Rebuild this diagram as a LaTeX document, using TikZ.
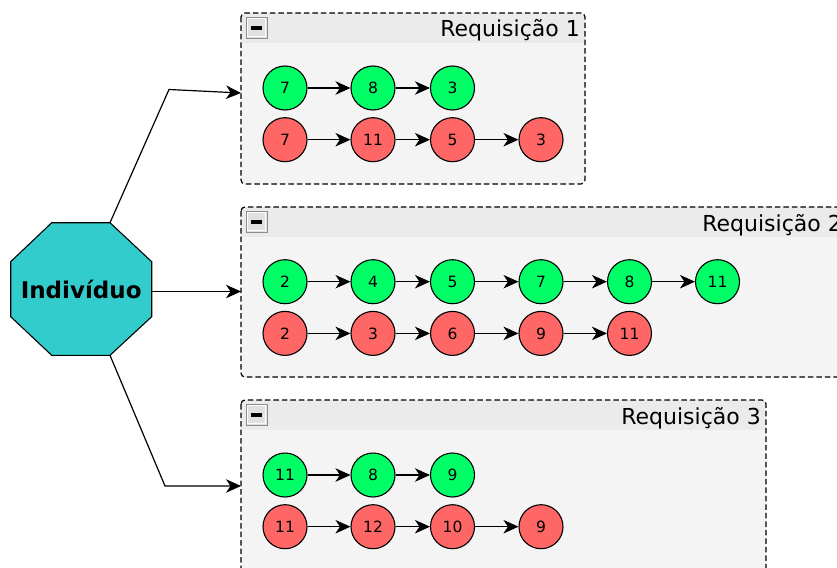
\documentclass[tikz,border=0pt]{standalone}
\usepackage{fontspec}
\setmainfont{DejaVu Sans}
\usetikzlibrary{arrows.meta}
\definecolor{hdrgray}{HTML}{EBEBEB}
\definecolor{bodygray}{HTML}{F4F4F4}
\definecolor{okgreen}{HTML}{00FF66}
\definecolor{badred}{HTML}{FF6666}
\definecolor{octteal}{HTML}{33CCCC}
\definecolor{iconedge}{HTML}{8C8C8C}
\definecolor{iconfill}{HTML}{E0E0E0}

% request container: #1 title node name, #2 left, #3 top, #4 right, #5 bottom, #6 title
\newcommand{\reqbox}[6]{%
  \fill[bodygray, rounded corners=4pt] (#2,#3) rectangle (#4,#5);
  \begin{scope}
    \clip[rounded corners=4pt] (#2,#3) rectangle (#4,#5);
    \fill[hdrgray] (#2,#3) rectangle (#4,{#3+30});
  \end{scope}
  \draw[frame] (#2,#3) rectangle (#4,#5);
  % collapse icon
  \draw[iconedge, fill=iconfill, line width=0.9pt] ({#2+5},{#3+4}) rectangle ({#2+26},{#3+25});
  \draw[white, line width=0.8pt] ({#2+6.5},{#3+5.5}) rectangle ({#2+24.5},{#3+23.5});
  \fill[black] ({#2+10},{#3+12.8}) rectangle ({#2+21},{#3+16.8});
  \node[title, anchor=base east] (#1) at ({#4-5},{#3+24}) {#6};
}

\begin{document}
\begin{tikzpicture}[x=1pt, y=-1pt,
  frame/.style={dash pattern=on 5.5pt off 3pt, line width=1.2pt, rounded corners=4pt},
  title/.style={font=\fontsize{22}{24}\selectfont, inner sep=0pt},
  gnode/.style={circle, draw, line width=1.1pt, fill=okgreen, minimum size=44pt,
    inner sep=0pt, font=\fontsize{15.5}{18}\selectfont},
  rnode/.style={gnode, fill=badred},
  link/.style={-{Stealth[length=15pt, width=13.5pt, inset=4.5pt]}, line width=1.1pt},
  edge/.style={-{Stealth[length=15pt, width=13.5pt, inset=4.5pt]}, line width=1.2pt}
]
\useasboundingbox (0,0) rectangle (837,567);
\clip (0,0) rectangle (837,567);

% individual (octagon)
\filldraw[fill=octteal, draw=black, line width=1.1pt]
  (51.7,222.7) -- (110,222.7) -- (151.7,261.7) -- (151.7,316.7) --
  (110,355.3) -- (51.7,355.3) -- (10.7,316.7) -- (10.7,261.7) -- cycle;
\node[font=\bfseries\fontsize{23}{26}\selectfont] (ind) at (81.2,289) {Indivíduo};
\coordinate (indNE) at (110,222.7);
\coordinate (indE) at (151.7,291.5);
\coordinate (indSE) at (110,355.3);

% request containers
\reqbox{t1}{241}{13}{585}{184}{Requisição 1}
\reqbox{t2}{241}{207}{847}{377}{Requisição 2}
\reqbox{t3}{241}{400}{766}{600}{Requisição 3}

\coordinate (in1) at (241,93);
\coordinate (in2) at (241,291.5);
\coordinate (in3) at (241,486);
\coordinate (bend1) at (169,89.5);
\coordinate (bend3) at (165,486);

\draw[edge] (indNE) -- (bend1) -- (in1);
\draw[edge] (indE) -- (in2);
\draw[edge] (indSE) -- (bend3) -- (in3);

% Requisição 1
\node[gnode] (a1) at (285,88) {7};
\node[gnode] (a2) at (373,88) {8};
\node[gnode] (a3) at (452.5,88) {3};
\node[rnode] (b1) at (285,139.7) {7};
\node[rnode] (b2) at (373,139.7) {11};
\node[rnode] (b3) at (452.5,139.7) {5};
\node[rnode] (b4) at (541,139.7) {3};
\draw[link] (a1) -- (a2);
\draw[link] (a2) -- (a3);
\draw[link] (b1) -- (b2);
\draw[link] (b2) -- (b3);
\draw[link] (b3) -- (b4);

% Requisição 2
\node[gnode] (c1) at (285,281.7) {2};
\node[gnode] (c2) at (373,281.7) {4};
\node[gnode] (c3) at (452.5,281.7) {5};
\node[gnode] (c4) at (541,281.7) {7};
\node[gnode] (c5) at (629.5,281.7) {8};
\node[gnode] (c6) at (717.5,281.7) {11};
\node[rnode] (d1) at (285,333.4) {2};
\node[rnode] (d2) at (373,333.4) {3};
\node[rnode] (d3) at (452.5,333.4) {6};
\node[rnode] (d4) at (541,333.4) {9};
\node[rnode] (d5) at (629.5,333.4) {11};
\draw[link] (c1) -- (c2);
\draw[link] (c2) -- (c3);
\draw[link] (c3) -- (c4);
\draw[link] (c4) -- (c5);
\draw[link] (c5) -- (c6);
\draw[link] (d1) -- (d2);
\draw[link] (d2) -- (d3);
\draw[link] (d3) -- (d4);
\draw[link] (d4) -- (d5);

% Requisição 3
\node[gnode] (e1) at (285,475) {11};
\node[gnode] (e2) at (373,475) {8};
\node[gnode] (e3) at (452.5,475) {9};
\node[rnode] (f1) at (285,526.7) {11};
\node[rnode] (f2) at (373,526.7) {12};
\node[rnode] (f3) at (452.5,526.7) {10};
\node[rnode] (f4) at (541,526.7) {9};
\draw[link] (e1) -- (e2);
\draw[link] (e2) -- (e3);
\draw[link] (f1) -- (f2);
\draw[link] (f2) -- (f3);
\draw[link] (f3) -- (f4);
\end{tikzpicture}
\end{document}
